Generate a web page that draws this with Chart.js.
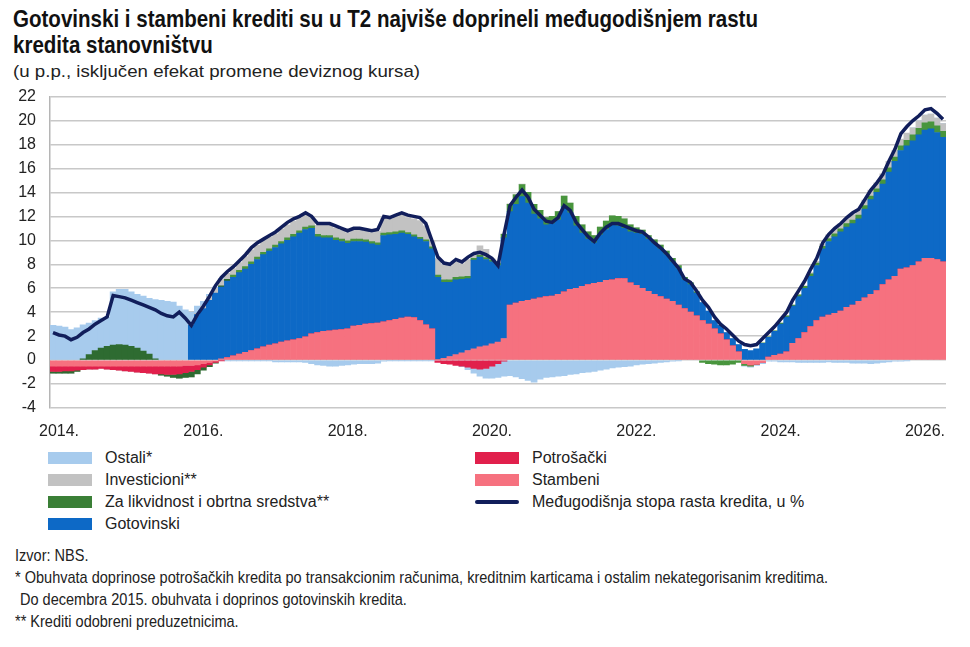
<!DOCTYPE html>
<html lang="sr">
<head>
<meta charset="utf-8">
<title>Doprinosi međugodišnjem rastu kredita stanovništvu</title>
<script src="https://cdn.jsdelivr.net/npm/chart.js"></script>
<style>
  body {
    margin: 0;
    width: 970px;
    height: 647px;
    background: #fff;
    position: relative;
    overflow: hidden;
    color: #1a1a1a;
    font-family: "Liberation Sans", Arial, sans-serif;
  }
  .fit { display: inline-block; white-space: nowrap; transform-origin: 0 0; }
  #title {
    position: absolute; left: 13px; top: 6px;
    font-size: 24px; line-height: 26px; font-weight: bold; color: #111;
  }
  #subtitle {
    position: absolute; left: 13px; top: 62px;
    font-size: 17px; line-height: 20px; color: #222;
  }
  #wrap { position: absolute; left: 0; top: 73px; width: 970px; height: 367px; }
  .legend-col { position: absolute; top: 447px; }
  .legend-item { height: 22px; display: flex; align-items: center; font-size: 16px; color: #222; white-space: nowrap; }
  .legend-item .sw { width: 44px; height: 12px; margin-right: 13px; flex: none; }
  .legend-item .ln { width: 44px; height: 4px; margin-right: 13px; flex: none; border-radius: 2px; }
  #notes {
    position: absolute; left: 15px; top: 545px;
    font-size: 17px; line-height: 22px; color: #222;
  }
  #notes div { height: 22px; }
</style>
</head>
<body>
<div id="title">
  <div><span class="fit t">Gotovinski i stambeni krediti su u T2 najviše doprineli međugodišnjem rastu</span></div>
  <div><span class="fit t">kredita stanovništvu</span></div>
</div>
<div id="subtitle"><span class="fit s">(u p.p., isključen efekat promene deviznog kursa)</span></div>
<div id="wrap"><canvas id="chart" width="970" height="367"></canvas></div>
<div id="legendLeft" class="legend-col" style="left:48px"></div>
<div id="legendRight" class="legend-col" style="left:475px"></div>
<div id="notes">
  <div><span class="fit n">Izvor: NBS.</span></div>
  <div><span class="fit n">* Obuhvata doprinose potrošačkih kredita po transakcionim računima, kreditnim karticama i ostalim nekategorisanim kreditima.</span></div>
  <div style="padding-left:5px"><span class="fit n">Do decembra 2015. obuhvata i doprinos gotovinskih kredita.</span></div>
  <div><span class="fit n">** Krediti odobreni preduzetnicima.</span></div>
</div>

<script>
// Monthly observations, February 2014 - June 2026 (one row per year)
const startYear = 2014
const startMonth = 2
const yTicks = { min: -4, max: 22, step: 2 }

const stambeni = [
  -0.5, -0.5, -0.5, -0.5, -0.5, -0.5, -0.5, -0.5, -0.5, -0.5, -0.5,
  -0.5, -0.5, -0.5, -0.5, -0.5, -0.5, -0.5, -0.5, -0.5, -0.5, -0.5, -0.45,
  -0.45, -0.4, -0.3, -0.2, -0.1, 0.1, 0.2, 0.35, 0.5, 0.65, 0.8, 0.95,
  1.1, 1.25, 1.35, 1.5, 1.6, 1.7, 1.8, 1.95, 2.2, 2.3, 2.4, 2.45,
  2.5, 2.55, 2.6, 2.85, 2.9, 3.0, 3.05, 3.1, 3.2, 3.3, 3.4, 3.5,
  3.6, 3.55, 3.3, 2.95, 2.6, 0.05, 0.15, 0.3, 0.45, 0.6, 0.8, 0.95,
  1.1, 1.2, 1.35, 1.5, 1.8, 4.6, 4.75, 4.9, 5.0, 5.1, 5.2, 5.3,
  5.35, 5.5, 5.7, 5.9, 6.0, 6.15, 6.3, 6.4, 6.5, 6.65, 6.7, 6.8,
  6.8, 6.45, 6.25, 6.0, 5.75, 5.5, 5.3, 5.1, 4.9, 4.6, 4.3, 4.0,
  3.7, 3.3, 3.0, 2.6, 2.2, 1.7, 1.2, 0.7, -0.3, -0.4, -0.35, -0.2,
  0.25, 0.4, 0.5, 0.7, 1.4, 1.8, 2.3, 2.8, 3.3, 3.6, 3.75, 3.9,
  4.1, 4.4, 4.6, 4.9, 5.2, 5.5, 5.8, 6.3, 6.7, 7.0, 7.6, 7.7,
  7.9, 8.2, 8.5, 8.5, 8.4, 8.2
]

const potrosacki = [
  -0.45, -0.45, -0.4, -0.4, -0.35, -0.3, -0.25, -0.25, -0.2, -0.25, -0.3,
  -0.35, -0.4, -0.45, -0.5, -0.55, -0.6, -0.65, -0.65, -0.7, -0.7, -0.65, -0.6,
  -0.5, -0.4, -0.3, -0.2, -0.1, -0.05, 0, 0, 0, 0, 0, 0,
  0, 0, 0, 0, 0, 0, 0, 0, 0, 0, 0, 0,
  0, 0, 0, 0, 0, 0, 0, 0, 0, 0, 0, 0,
  0, 0, 0, 0, 0, -0.2, -0.3, -0.35, -0.45, -0.5, -0.6, -0.7,
  -0.75, -0.7, -0.5, -0.3, -0.1, 0, 0, 0, 0, 0, 0, 0,
  0, 0, 0, 0, 0, 0, 0, 0, 0, 0, 0, 0,
  0, 0, 0, 0, 0, 0, 0, 0, 0, 0, 0, 0,
  0, 0, 0, 0, 0, 0, 0, 0, 0, 0, 0, 0,
  0, 0, 0, 0, 0, 0, 0, 0, 0, 0, 0, 0,
  0, 0, 0, 0, 0, 0, 0, 0, 0, 0, 0, 0,
  0, 0, 0, 0, 0, 0
]

// until Dec 2015 cash loans are reported inside "Ostali"
const gotovinski = [
  null, null, null, null, null, null, null, null, null, null, null,
  null, null, null, null, null, null, null, null, null, null, null, null,
  2.9, 3.8, 4.3, 5.0, 5.6, 6.0, 6.4, 6.55, 6.8, 6.95, 7.2, 7.45,
  7.7, 7.85, 8.05, 8.2, 8.4, 8.6, 8.8, 8.95, 8.8, 8.0, 7.8, 7.75,
  7.5, 7.35, 7.15, 7.05, 7.0, 6.85, 6.65, 6.5, 7.2, 7.15, 7.1, 7.1,
  6.9, 6.75, 6.8, 6.95, 6.7, 6.85, 6.35, 6.2, 6.25, 6.15, 6.0, 7.4,
  7.5, 7.2, 6.85, 6.4, 8.4, 7.8, 8.25, 8.75, 8.1, 7.1, 6.6, 6.0,
  6.05, 6.2, 7.1, 6.4, 5.2, 4.45, 3.8, 3.4, 3.95, 4.25, 4.6, 4.4,
  4.2, 4.25, 4.35, 4.5, 4.35, 4.25, 4.0, 3.7, 3.3, 3.05, 2.4, 2.3,
  1.9, 1.5, 1.1, 0.7, 0.7, 0.6, 0.6, 0.6, 0.9, 0.8, 0.95, 1.4,
  1.65, 2.0, 2.5, 2.9, 3.1, 3.5, 3.7, 4.2, 4.6, 5.7, 6.15, 6.4,
  6.6, 6.7, 6.8, 6.9, 7.4, 7.9, 8.2, 8.4, 9.0, 9.6, 9.9, 10.2,
  10.4, 10.6, 10.7, 10.8, 10.6, 10.4
]

const likvidnost = [
  -0.15, -0.15, -0.2, -0.2, -0.1, 0.1, 0.45, 0.8, 1.0, 1.15, 1.25,
  1.3, 1.25, 1.15, 1.0, 0.75, 0.5, 0.1, -0.1, -0.15, -0.25, -0.35, -0.4,
  -0.45, -0.35, -0.25, -0.15, -0.05, 0.1, 0.15, 0.2, 0.2, 0.2, 0.2, 0.2,
  0.2, 0.2, 0.2, 0.2, 0.2, 0.2, 0.2, 0.2, 0.2, 0.2, 0.2, 0.2,
  0.2, 0.2, 0.2, 0.2, 0.2, 0.2, 0.2, 0.2, 0.2, 0.2, 0.2, 0.2,
  0.15, 0.15, 0.15, 0.15, 0.15, 0.2, 0.2, 0.2, 0.2, 0.2, 0.2, 0.15,
  0.15, 0.15, 0.15, 0.15, 0.3, 0.6, 0.8, 1.0, 0.9, 0.8, 0.7, 0.6,
  0.6, 0.7, 0.9, 0.8, 0.8, 0.7, 0.6, 0.6, 0.65, 0.7, 0.75, 0.8,
  0.8, 0.6, 0.45, 0.35, 0.3, 0.3, 0.3, 0.3, 0.3, 0.25, 0.2, 0.15,
  0.1, -0.2, -0.3, -0.35, -0.4, -0.4, -0.35, -0.2, -0.15, -0.1, 0, 0.05,
  0.05, 0.05, 0.1, 0.1, 0.1, 0.15, 0.15, 0.2, 0.2, 0.2, 0.25, 0.25,
  0.25, 0.3, 0.3, 0.3, 0.3, 0.3, 0.3, 0.35, 0.35, 0.35, 0.4, 0.45,
  0.5, 0.55, 0.6, 0.6, 0.55, 0.5
]

const investicioni = [
  0, 0, 0, 0, 0, 0, 0, 0, 0, 0, 0,
  0, 0, 0, 0, 0, 0, 0, 0, 0, 0, 0, 0,
  0, 0.1, 0.2, 0.3, 0.4, 0.55, 0.5, 0.55, 0.65, 0.85, 1.0, 1.0,
  0.95, 0.95, 0.95, 1.05, 1.1, 1.1, 1.05, 1.05, 0.7, 0.75, 0.85, 0.85,
  0.85, 0.75, 0.7, 0.75, 0.75, 0.7, 0.75, 0.95, 1.25, 1.1, 1.25, 1.35,
  1.25, 1.35, 1.4, 1.15, 0.5, 1.35, 1.25, 1.15, 1.3, 1.1, 1.4, 0.25,
  0.8, 0.7, 0.1, 0.1, 0.05, 0.05, 0.05, 0.05, 0, 0, 0, 0,
  0, 0, 0, 0, 0, 0, 0, 0, 0, 0, 0, 0,
  0, 0, 0, 0, 0, 0, 0, 0, 0, 0, 0, 0,
  0, 0, 0, 0, 0, 0, 0, 0, 0, 0, 0, 0,
  0, 0, 0, 0, 0, 0, 0.05, 0.1, 0.15, 0.2, 0.3, 0.35,
  0.4, 0.4, 0.45, 0.45, 0.45, 0.5, 0.5, 0.5, 0.55, 0.55, 0.55, 0.6,
  0.6, 0.6, 0.65, 0.65, 0.65, 0.65
]

const ostali = [
  2.9, 2.85, 2.75, 2.55, 2.7, 2.85, 2.65, 2.5, 2.5, 2.45, 4.45,
  4.6, 4.65, 4.55, 4.5, 4.6, 4.65, 4.95, 5.0, 4.9, 4.85, 4.5, 4.2,
  1.1, 0.6, 0.4, 0.2, 0.1, 0.05, -0.05, -0.05, -0.05, -0.05, -0.05, -0.05,
  -0.05, -0.05, -0.15, -0.15, -0.15, -0.15, -0.15, -0.2, -0.3, -0.4, -0.45, -0.5,
  -0.5, -0.45, -0.4, -0.35, -0.3, -0.3, -0.3, -0.25, -0.1, -0.05, -0.05, -0.05,
  -0.05, -0.05, -0.05, -0.05, -0.05, 0, 0, 0, 0, -0.05, -0.2, -0.4,
  -0.6, -0.8, -1.0, -1.15, -1.25, -1.3, -1.4, -1.55, -1.7, -1.85, -1.6, -1.45,
  -1.4, -1.35, -1.3, -1.2, -1.15, -1.05, -1.0, -0.95, -0.85, -0.75, -0.65, -0.6,
  -0.55, -0.5, -0.4, -0.35, -0.3, -0.25, -0.2, -0.15, -0.1, -0.05, 0, 0,
  0, 0, 0, 0, 0, 0, 0, 0, -0.05, -0.1, -0.1, -0.1,
  -0.1, -0.1, -0.15, -0.15, -0.15, -0.2, -0.2, -0.2, -0.2, -0.2, -0.15, -0.2,
  -0.2, -0.2, -0.25, -0.25, -0.25, -0.3, -0.25, -0.2, -0.15, -0.1, -0.1, -0.05,
  0, 0, 0, 0, 0, 0
]

// year-on-year growth of household loans, %
const stopaRasta = [
  2.3, 2.1, 2.0, 1.7, 1.9, 2.3, 2.6, 3.0, 3.3, 3.6, 5.4,
  5.3, 5.2, 5.0, 4.8, 4.6, 4.4, 4.2, 3.9, 3.7, 3.6, 4.0, 3.5,
  2.9, 3.8, 4.5, 5.3, 6.2, 6.9, 7.4, 7.8, 8.3, 8.8, 9.4, 9.8,
  10.1, 10.4, 10.7, 11.1, 11.5, 11.8, 12.0, 12.3, 12.0, 11.4, 11.4, 11.4,
  11.2, 11.0, 10.8, 11.0, 11.0, 10.9, 10.8, 10.9, 12.0, 11.9, 12.1, 12.3,
  12.1, 12.0, 11.9, 11.4, 10.0, 8.6, 8.1, 8.0, 8.4, 8.2, 8.6, 8.9,
  9.0, 8.8, 8.5, 7.9, 10.5, 12.9, 13.6, 14.2, 13.6, 12.6, 12.1, 11.6,
  11.5, 11.9, 12.9, 12.5, 11.5, 10.9, 10.3, 9.9, 10.6, 11.1, 11.4, 11.4,
  11.2, 11.0, 10.8, 10.7, 10.3, 9.8, 9.4, 8.9, 8.3, 7.7, 6.8, 6.5,
  5.8, 5.0, 4.4, 3.6, 3.0, 2.6, 2.1, 1.6, 1.3, 1.2, 1.3, 1.8,
  2.3, 2.8, 3.4, 4.0, 5.0, 5.8, 6.6, 7.6, 8.5, 9.8, 10.5, 11.0,
  11.4, 11.9, 12.3, 12.6, 13.4, 14.2, 14.8, 15.5, 16.6, 17.6, 18.9, 19.5,
  20.0, 20.4, 20.9, 21.0, 20.6, 20.1
]

// category labels "YYYY-MM"
const months = stopaRasta.map((_, i) => {
  const m = startMonth - 1 + i
  const y = startYear + Math.floor(m / 12)
  return y + '-' + String((m % 12) + 1).padStart(2, '0')
})

const colors = {
  ostali: '#a7cbed',
  investicioni: '#c2c2c2',
  likvidnost: '#48953d',
  likvidnostDark: '#2e6b31',
  gotovinski: '#0d69c6',
  potrosacki: '#e1204c',
  stambeni: '#f6717f',
  line: '#111e5b'
}

const tickFont = { family: '"Liberation Sans", Arial, sans-serif', size: 16 }

function barSet(label, data, color) {
  return {
    type: 'bar',
    label: label,
    data: data,
    backgroundColor: color,
    borderWidth: 0,
    barPercentage: 1,
    categoryPercentage: 1,
    order: 1
  }
}

const datasets = [
  barSet('Stambeni', stambeni, colors.stambeni),
  barSet('Potrošački', potrosacki, colors.potrosacki),
  barSet('Gotovinski', gotovinski, colors.gotovinski),
  barSet('Za likvidnost i obrtna sredstva**', likvidnost,
    ctx => ctx.dataIndex < 30 ? colors.likvidnostDark : colors.likvidnost),
  barSet('Investicioni**', investicioni, colors.investicioni),
  barSet('Ostali*', ostali, colors.ostali),
  {
    type: 'line',
    label: 'Međugodišnja stopa rasta kredita, u %',
    data: stopaRasta,
    borderColor: colors.line,
    borderWidth: 3.5,
    pointRadius: 0,
    tension: 0,
    fill: false,
    stack: 'line',
    order: 0
  }
]

new Chart(document.getElementById('chart'), {
  data: { labels: months, datasets: datasets },
  options: {
    responsive: false,
    animation: false,
    layout: { padding: { top: 0, right: 24, left: 0, bottom: 0 } },
    plugins: {
      legend: { display: false },
      tooltip: { enabled: false }
    },
    scales: {
      x: {
        stacked: true,
        grid: { display: false },
        border: { display: false },
        afterFit: scale => { scale.height = 32 },
        ticks: {
          autoSkip: false,
          maxRotation: 0,
          padding: 6,
          color: '#222',
          font: tickFont,
          // label every second year, placed on March like the source
          callback: function(value, index) {
            const [y, m] = months[index].split('-')
            return (m === '03' && y % 2 === 0) ? y + '.' : ''
          }
        }
      },
      y: {
        stacked: true,
        min: yTicks.min,
        max: yTicks.max,
        afterFit: scale => { scale.width = 50 },
        grid: { color: '#c8c8c8', lineWidth: 1.5, drawTicks: false },
        border: { display: true, color: '#b5b5b5', width: 1.5 },
        ticks: {
          stepSize: yTicks.step,
          padding: 14,
          color: '#222',
          font: tickFont
        }
      }
    }
  }
})

// Legend in two columns, top-down like the original
function legendItem(label, color, isLine) {
  const row = document.createElement('div')
  row.className = 'legend-item'
  const sw = document.createElement('span')
  sw.className = isLine ? 'ln' : 'sw'
  sw.style.background = color
  const txt = document.createElement('span')
  txt.textContent = label
  row.appendChild(sw)
  row.appendChild(txt)
  return row
}

const leftCol = document.getElementById('legendLeft')
leftCol.appendChild(legendItem('Ostali*', colors.ostali))
leftCol.appendChild(legendItem('Investicioni**', colors.investicioni))
leftCol.appendChild(legendItem('Za likvidnost i obrtna sredstva**', '#3a7f36'))
leftCol.appendChild(legendItem('Gotovinski', colors.gotovinski))

const rightCol = document.getElementById('legendRight')
rightCol.appendChild(legendItem('Potrošački', colors.potrosacki))
rightCol.appendChild(legendItem('Stambeni', colors.stambeni))
rightCol.appendChild(legendItem('Međugodišnja stopa rasta kredita, u %', colors.line, true))

// The source uses a condensed face; squeeze the text to the same widths
function squeeze(selector, refIndex, targetWidth) {
  const els = document.querySelectorAll(selector)
  const k = targetWidth / els[refIndex].getBoundingClientRect().width
  els.forEach(el => { el.style.transform = 'scaleX(' + k + ')' })
}
squeeze('.fit.t', 0, 745)
squeeze('.fit.s', 0, 407)
squeeze('.fit.n', 1, 813)
</script>
</body>
</html>
